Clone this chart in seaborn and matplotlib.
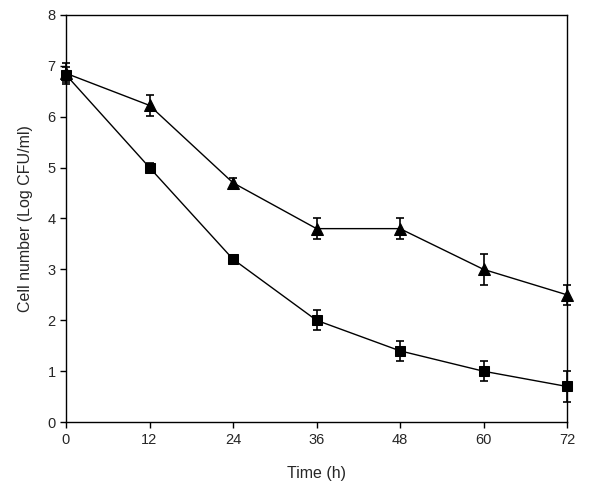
import matplotlib
matplotlib.use("Agg")
import matplotlib.pyplot as plt
import seaborn as sns
import pandas as pd

time_h = [0, 12, 24, 36, 48, 60, 72]
triangle_mean = [6.85, 6.22, 4.70, 3.80, 3.80, 3.00, 2.50]
triangle_err = [0.20, 0.20, 0.10, 0.20, 0.20, 0.30, 0.20]
square_mean = [6.82, 5.00, 3.20, 2.00, 1.40, 1.00, 0.70]
square_err = [0.15, 0.08, 0.08, 0.20, 0.20, 0.20, 0.30]

df = pd.DataFrame({
    "Time": time_h * 2,
    "Count": triangle_mean + square_mean,
    "Err": triangle_err + square_err,
    "Series": ["triangle"] * 7 + ["square"] * 7,
})

sns.set_style("ticks")
plt.rcParams["font.family"] = ["Liberation Sans", "DejaVu Sans"]

fig = plt.figure(figsize=(6, 4.92), dpi=100)
ax = fig.add_axes([0.11, 0.142, 0.835, 0.828])

for name, marker, ms in [("triangle", "^", 8), ("square", "s", 7)]:
    sub = df[df["Series"] == name]
    eb = ax.errorbar(sub["Time"], sub["Count"], yerr=sub["Err"], fmt="none",
                     ecolor="black", elinewidth=1.2, capsize=3, capthick=1.2, zorder=2)
    for art in eb.lines[1] + eb.lines[2]:
        art.set_clip_on(False)
    sns.lineplot(data=sub, x="Time", y="Count", ax=ax, color="black",
                 linewidth=1.0, marker=marker, markersize=ms,
                 markeredgecolor="black", markerfacecolor="black", zorder=3,
                 clip_on=False)

ax.set_xlim(0, 72)
ax.set_ylim(0, 8)
ax.set_xticks(time_h)
ax.set_yticks(range(0, 9))
ax.tick_params(direction="out", length=4, width=1, labelsize=10.5, color="black")
for s in ax.spines.values():
    s.set_linewidth(1.0)
    s.set_color("black")
ax.set_xlabel("Time (h)", fontsize=11.5, labelpad=14)
ax.set_ylabel("Cell number (Log CFU/ml)", fontsize=11.5, labelpad=10)

fig.savefig("out.png", dpi=100)
